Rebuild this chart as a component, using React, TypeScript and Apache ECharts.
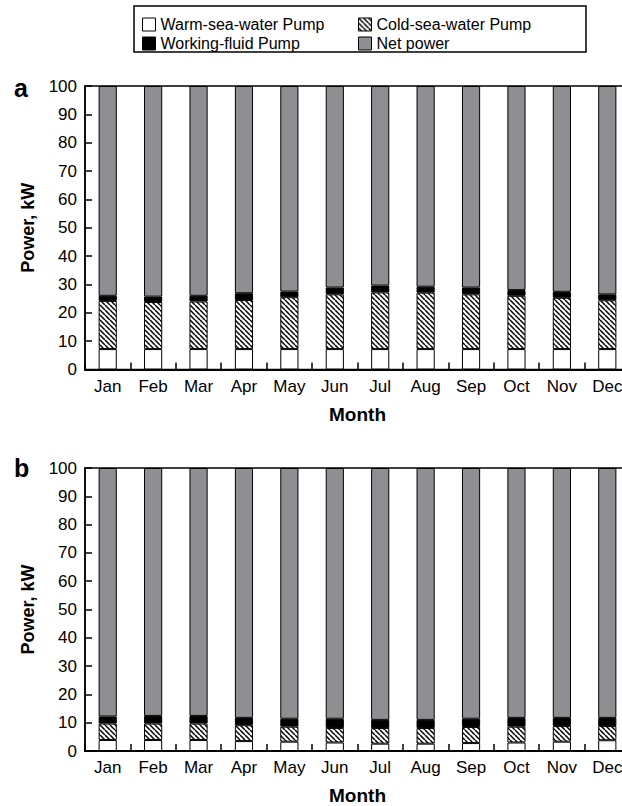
import React, { useEffect, useRef } from "react";
import * as echarts from "echarts";

const months = ["Jan", "Feb", "Mar", "Apr", "May", "Jun", "Jul", "Aug", "Sep", "Oct", "Nov", "Dec"];
const seriesNames = ["Warm-sea-water Pump", "Cold-sea-water Pump", "Working-fluid Pump", "Net power"];

// Panel a
const aWarm = [7.2, 7.2, 7.2, 7.2, 7.2, 7.2, 7.2, 7.2, 7.2, 7.2, 7.2, 7.2];
const aCold = [17.0, 16.6, 16.8, 17.3, 18.3, 19.3, 20.0, 19.9, 19.3, 18.8, 18.1, 17.2];
const aWorking = [1.8, 1.9, 2.0, 2.4, 2.0, 2.4, 2.4, 2.1, 2.4, 2.0, 2.1, 2.1];
const aNet = [74.0, 74.3, 74.0, 73.1, 72.5, 71.1, 70.4, 70.8, 71.1, 72.0, 72.6, 73.5];

// Panel b
const bWarm = [3.9, 3.9, 3.9, 3.5, 3.3, 3.0, 2.6, 2.6, 2.8, 3.0, 3.3, 3.8];
const bCold = [5.8, 5.8, 5.8, 5.6, 5.3, 5.1, 5.5, 5.5, 5.7, 5.6, 5.5, 5.0];
const bWorking = [2.5, 2.7, 2.7, 2.6, 2.8, 3.3, 2.9, 2.9, 2.9, 3.1, 2.9, 2.9];
const bNet = [87.8, 87.6, 87.6, 88.3, 88.6, 88.6, 89.0, 89.0, 88.6, 88.3, 88.3, 88.3];

const yTicks = { min: 0, max: 100, interval: 10 };

const FONT = "'Liberation Sans', Arial, sans-serif";

function makeHatch() {
  const s = 5;
  const c = document.createElement("canvas");
  c.width = s;
  c.height = s;
  const ctx = c.getContext("2d")!;
  ctx.fillStyle = "#fff";
  ctx.fillRect(0, 0, s, s);
  ctx.strokeStyle = "#000";
  ctx.lineWidth = 1.5;
  for (const k of [-s, 0, s]) {
    ctx.beginPath();
    ctx.moveTo(k, 0);
    ctx.lineTo(k + s, s);
    ctx.stroke();
  }
  return c;
}

export default function App() {
  const ref = useRef<HTMLDivElement>(null);
  useEffect(() => {
    if (!ref.current) return;
    const chart = echarts.init(ref.current, null, { renderer: "svg" });
    const hatch = makeHatch();
    const hatchPattern: any = { image: hatch, repeat: "repeat", imageWidth: 5, imageHeight: 5 };
    const colors: any[] = ["#ffffff", hatchPattern, "#000000", "#8f8f93"];

    const grids = [
      { left: 85, top: 86, width: 545, height: 283.5 },
      { left: 85, top: 468, width: 545, height: 284 },
    ];

    const xAxes = grids.map((_, i) => ({
      type: "category",
      gridIndex: i,
      data: months,
      name: "Month",
      nameLocation: "middle",
      nameGap: 35,
      nameTextStyle: { fontSize: 19, fontWeight: "bold", color: "#000", fontFamily: FONT },
      axisLine: { lineStyle: { color: "#000", width: 2 } },
      axisTick: { show: true, inside: true, length: 7, lineStyle: { color: "#000", width: 1.5 } },
      axisLabel: { fontSize: 17, color: "#000", margin: 8, fontFamily: FONT },
    }));

    const yAxes = grids.map((_, i) => ({
      type: "value",
      gridIndex: i,
      min: yTicks.min,
      max: yTicks.max,
      interval: yTicks.interval,
      name: "Power, kW",
      nameLocation: "middle",
      nameGap: 48,
      nameTextStyle: { fontSize: 18, fontWeight: "bold", color: "#000", fontFamily: FONT },
      axisLine: { show: true, lineStyle: { color: "#000", width: 1.5 } },
      axisTick: { show: true, inside: true, length: 7, lineStyle: { color: "#000", width: 1.5 } },
      axisLabel: { fontSize: 17, color: "#000", margin: 8, fontFamily: FONT },
      splitLine: { show: false },
    }));

    const data = [
      [aWarm, aCold, aWorking, aNet],
      [bWarm, bCold, bWorking, bNet],
    ];

    const series: any[] = [];
    data.forEach((panel, gi) => {
      panel.forEach((vals, si) => {
        series.push({
          type: "bar",
          name: seriesNames[si],
          xAxisIndex: gi,
          yAxisIndex: gi,
          stack: "p" + gi,
          barWidth: "40%",
          data: vals,
          itemStyle: { color: colors[si], borderColor: "#000", borderWidth: 1 },
          emphasis: { disabled: true },
        });
      });
    });

    const legendBase = {
      orient: "vertical",
      top: 15,
      itemWidth: 13,
      itemHeight: 13,
      itemGap: 0,
      icon: "rect",
      selectedMode: false,
      padding: 0,
      textStyle: { fontSize: 16, lineHeight: 19, color: "#000", fontFamily: FONT },
      itemStyle: { borderColor: "#000", borderWidth: 1 },
    };

    chart.setOption({
      animation: false,
      backgroundColor: "#fff",
      grid: grids.map((g) => ({ ...g, show: true, borderColor: "#000", borderWidth: 1.5, backgroundColor: "transparent" })),
      xAxis: xAxes,
      yAxis: yAxes,
      legend: [
        { ...legendBase, left: 142, data: [seriesNames[0], seriesNames[2]] },
        { ...legendBase, left: 358, data: [seriesNames[1], seriesNames[3]] },
      ],
      graphic: [
        {
          type: "rect",
          shape: { x: 134, y: 6, width: 452, height: 46 },
          style: { fill: "none", stroke: "#000", lineWidth: 1.5 },
          z: 10,
        },
        {
          type: "text",
          x: 14,
          y: 88,
          style: { text: "a", fontSize: 25, fontWeight: "bold", fill: "#000", fontFamily: FONT, verticalAlign: "middle" },
        },
        {
          type: "text",
          x: 14,
          y: 468,
          style: { text: "b", fontSize: 25, fontWeight: "bold", fill: "#000", fontFamily: FONT, verticalAlign: "middle" },
        },
      ],
      series,
    });
    return () => chart.dispose();
  }, []);
  return <div ref={ref} style={{ position: "fixed", left: 0, top: 0, width: 640, height: 806 }} />;
}
